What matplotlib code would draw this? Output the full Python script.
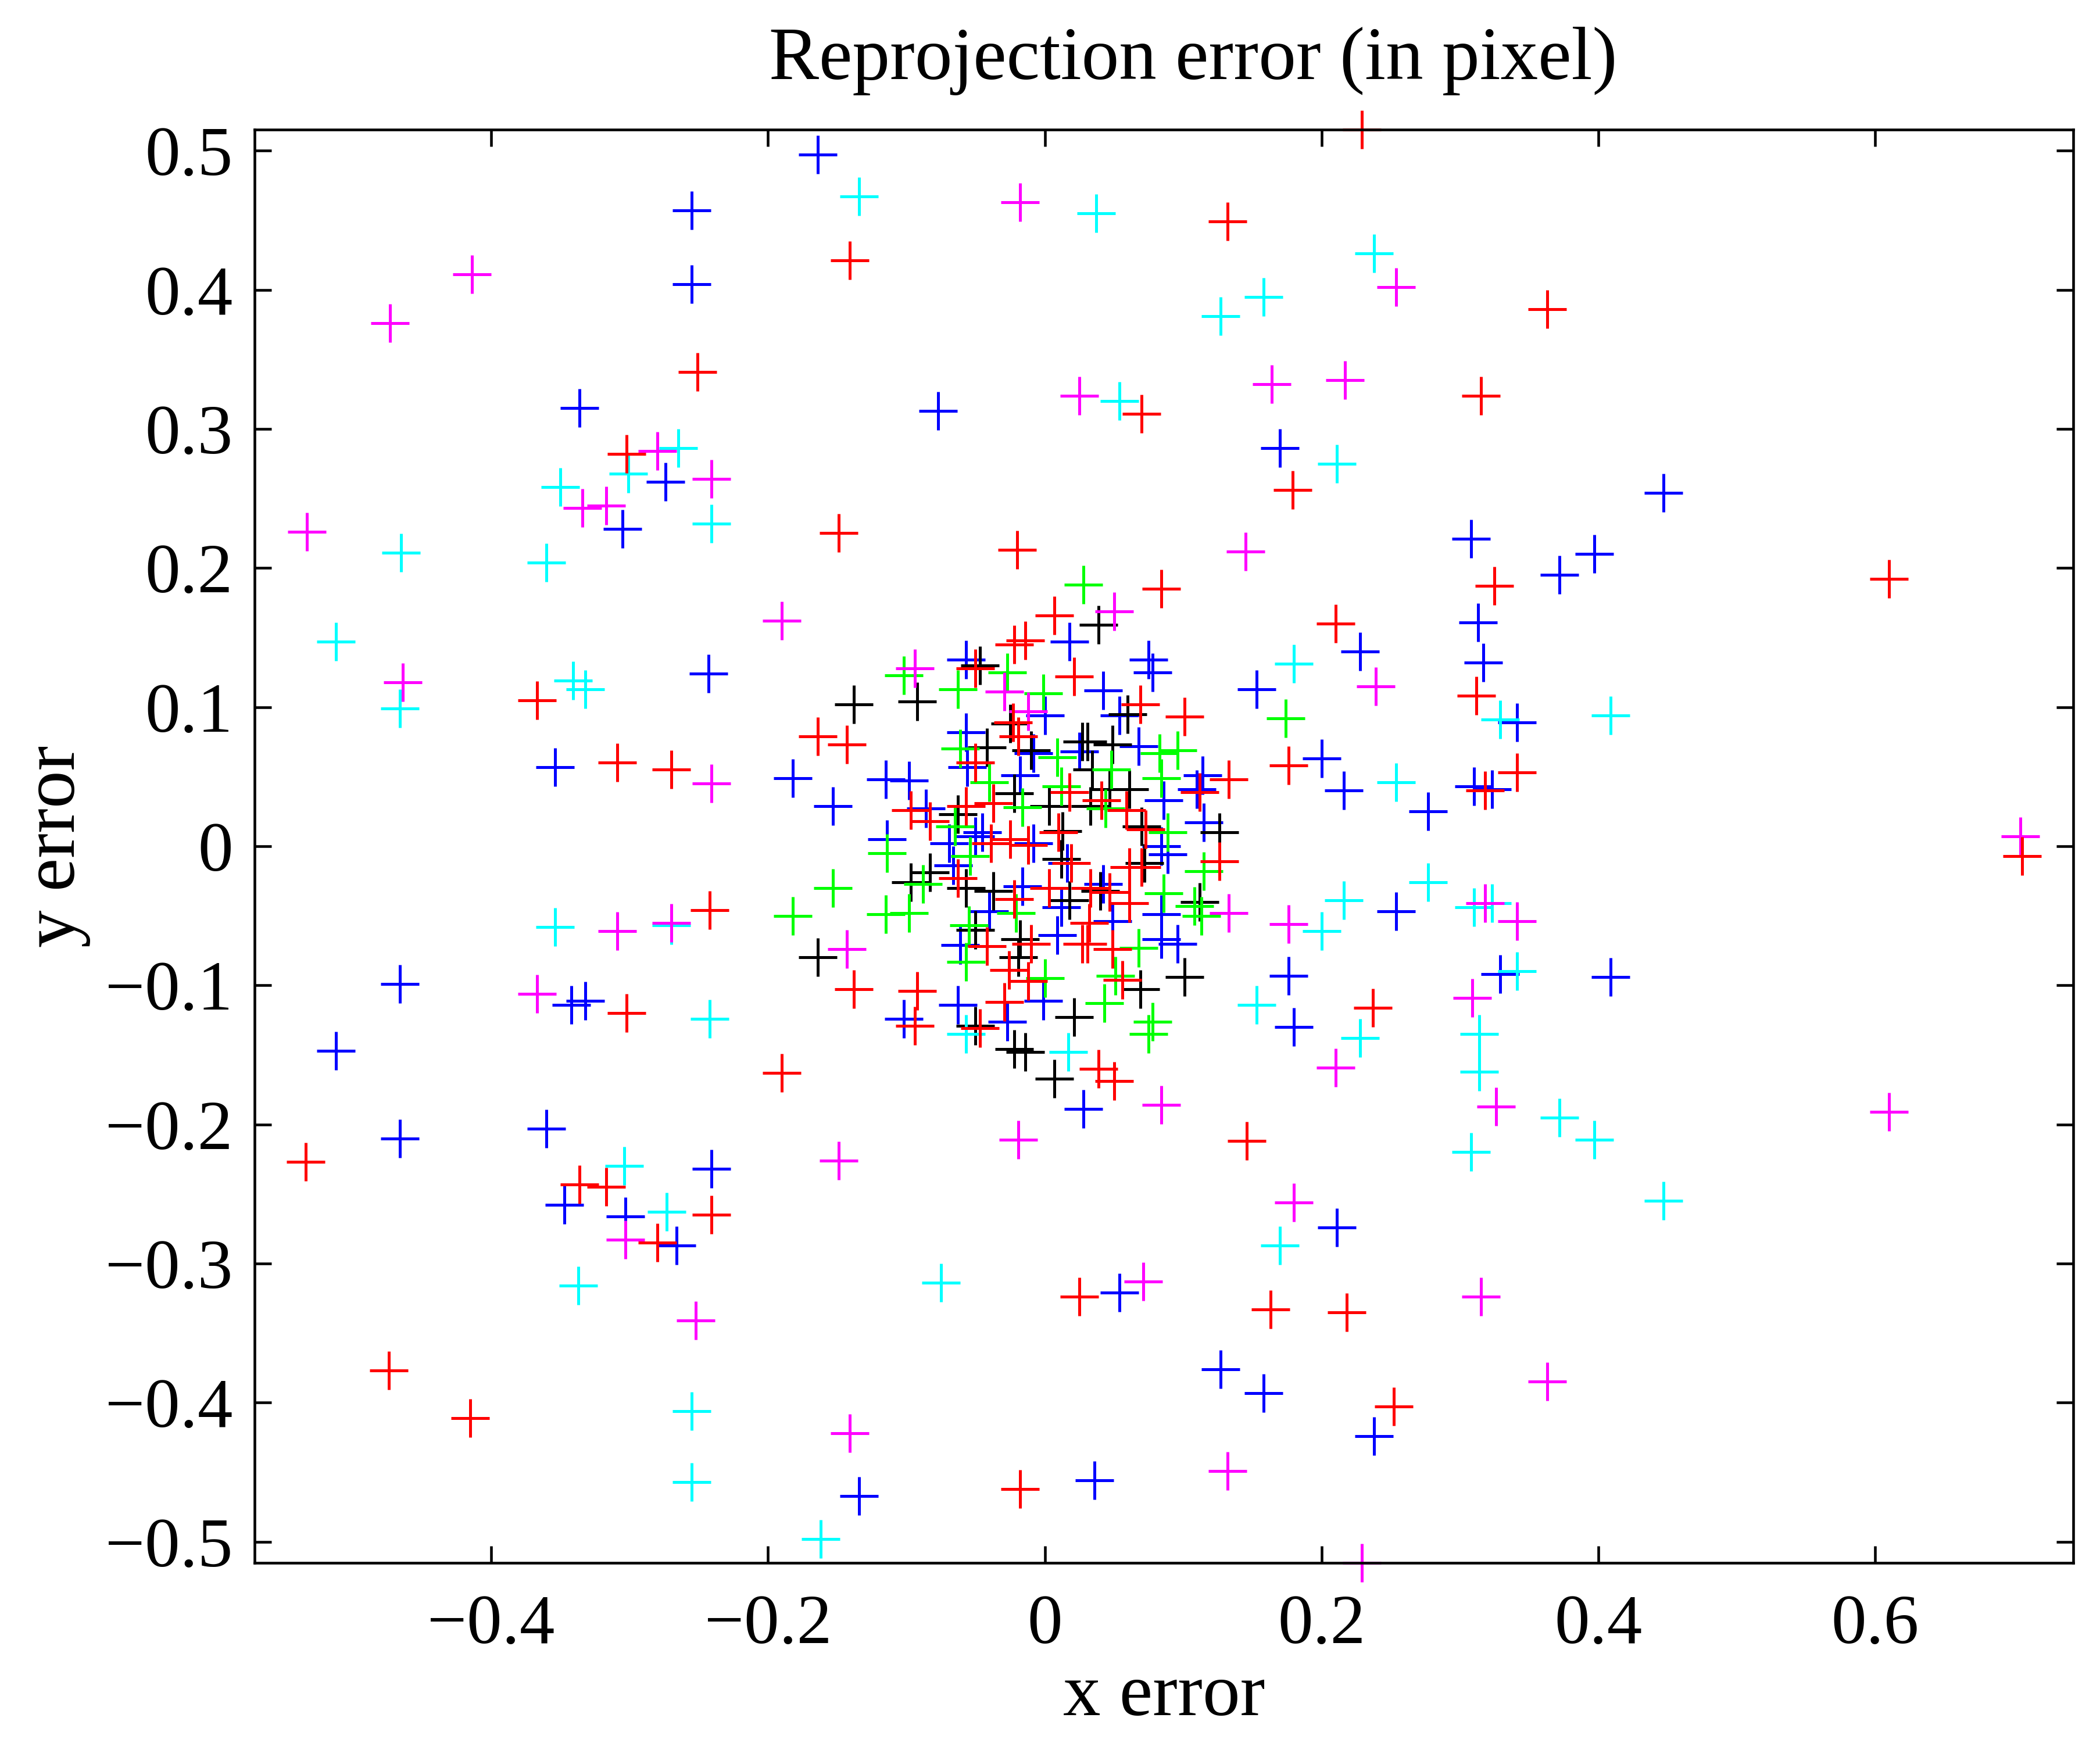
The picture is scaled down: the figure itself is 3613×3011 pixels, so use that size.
import numpy as np
import matplotlib
matplotlib.use("Agg")
import matplotlib.pyplot as plt
from matplotlib.ticker import FuncFormatter

plt.rcParams['font.family'] = ['Liberation Serif', 'DejaVu Serif']

# reprojection errors per image (x, y)
red_x = [0.229, 0.132, -0.141, 0.363, -0.251, 0.315, 0.070, -0.302, 0.179, -0.149, -0.020, 0.325, 0.084, 0.610,
         0.210, -0.367, 0.312, -0.309, -0.270, 0.176, 0.341, 0.318, 0.706, -0.242, -0.302, 0.237, -0.190, -0.534,
         -0.336, -0.317, -0.241, -0.280, 0.146, 0.025, 0.163, 0.218, 0.252, -0.474, -0.415, -0.018,
         -0.164, -0.143, -0.097, -0.083, -0.057, -0.037, -0.050, -0.023, -0.019, -0.050, -0.022, -0.039, -0.025,
         0.007, -0.014, 0.021, 0.069, 0.101, 0.018, 0.041, 0.059, 0.073, 0.112, 0.133, 0.010, -0.012, -0.063,
         -0.022, -0.042, -0.138, -0.092, -0.094, -0.047, -0.029, -0.026, 0.126, 0.049, 0.056, 0.039, 0.050,
         -0.010, 0.032, 0.027, 0.031, 0.033, 0.003, 0.019, 0.061, 0.070, 0.047, 0.061, -0.012]
red_y = [0.515, 0.449, 0.421, 0.386, 0.341, 0.324, 0.311, 0.282, 0.256, 0.225, 0.213, 0.187, 0.185, 0.192,
         0.160, 0.105, 0.108, 0.060, 0.055, 0.058, 0.053, 0.040, -0.007, -0.046, -0.120, -0.116, -0.163, -0.227,
         -0.243, -0.245, -0.265, -0.285, -0.212, -0.324, -0.333, -0.335, -0.403, -0.377, -0.411, -0.462,
         0.079, 0.073, 0.026, 0.018, 0.029, 0.031, 0.060, 0.089, 0.079, 0.128, 0.145, 0.002, 0.005,
         0.166, 0.148, 0.122, 0.102, 0.093, 0.039, 0.033, 0.026, 0.012, 0.039, 0.048, 0.010, 0.001, -0.023,
         -0.038, -0.072, -0.103, -0.104, -0.129, -0.131, -0.112, -0.089, -0.011, -0.074, -0.096, -0.160, -0.169,
         -0.070, -0.055, -0.070, -0.070, -0.030, -0.030, -0.012, -0.015, -0.015, -0.033, -0.041, -0.097]

magenta_x = [-0.018, -0.414, -0.473, 0.254, 0.217, 0.164, 0.025, -0.280, -0.241, -0.317, -0.334, -0.533, 0.145,
             -0.190, 0.050, -0.094, 0.239, -0.464, -0.241, 0.705, -0.270, -0.309, -0.143, 0.133, 0.176, 0.318,
             0.341, -0.367, 0.309, 0.210, 0.326, 0.084, -0.019, -0.149, 0.180, -0.303, 0.071, 0.315, -0.252,
             0.363, -0.141, 0.132, 0.229, 0.610, -0.029, -0.012]
magenta_y = [0.463, 0.411, 0.376, 0.402, 0.335, 0.332, 0.324, 0.284, 0.264, 0.245, 0.243, 0.226, 0.212,
             0.162, 0.169, 0.128, 0.115, 0.118, 0.045, 0.007, -0.055, -0.061, -0.074, -0.048, -0.056, -0.041,
             -0.054, -0.106, -0.109, -0.159, -0.187, -0.186, -0.211, -0.226, -0.256, -0.283, -0.313, -0.324, -0.341,
             -0.385, -0.422, -0.449, -0.515, -0.191, 0.111, 0.097]

cyan_x = [-0.134, 0.037, 0.238, 0.158, 0.127, 0.054, -0.265, -0.301, 0.211, -0.350, -0.241, -0.465, -0.360,
          -0.512, 0.180, -0.341, -0.332, -0.466, 0.409, 0.329, 0.254, 0.216, 0.277, 0.310, 0.323, -0.270, -0.354,
          0.341, 0.200, -0.242, 0.153, 0.228, 0.314, 0.314, -0.057, 0.017, 0.308, 0.372, 0.397, -0.304, 0.447,
          -0.273, 0.170, -0.337, -0.075, -0.255, -0.255, -0.162]
cyan_y = [0.467, 0.455, 0.426, 0.395, 0.381, 0.320, 0.286, 0.268, 0.275, 0.258, 0.232, 0.211, 0.204,
          0.147, 0.131, 0.119, 0.113, 0.099, 0.094, 0.091, 0.046, -0.039, -0.026, -0.044, -0.041, -0.057, -0.058,
          -0.090, -0.061, -0.124, -0.114, -0.138, -0.135, -0.162, -0.135, -0.148, -0.220, -0.195, -0.211, -0.230,
          -0.255, -0.263, -0.287, -0.316, -0.314, -0.406, -0.457, -0.498]

blue_x = [-0.164, -0.255, -0.255, -0.336, -0.077, 0.170, -0.274, -0.305, 0.447, 0.308, 0.372, 0.397, 0.313,
          0.317, -0.243, 0.228, 0.153, 0.341, 0.200, 0.216, 0.277, 0.310, 0.323, -0.354, 0.254, 0.409, 0.329,
          -0.466, -0.342, -0.332, 0.180, 0.176, -0.512, -0.360, -0.466, -0.241, -0.347, -0.303, -0.266, 0.211,
          0.036, 0.054, 0.127, 0.158, 0.238, -0.134, 0.028,
          -0.057, -0.182, -0.153, -0.115, -0.098, -0.086, -0.114, -0.056, -0.057, -0.018, -0.069, -0.050, -0.045,
          0.018, 0.075, 0.078, 0.000, 0.042, 0.054, 0.068, 0.025, -0.008, 0.086, 0.114, 0.110, 0.115, -0.008,
          0.084, 0.089, -0.066, -0.040, -0.061, -0.102, -0.063, -0.027, 0.084, 0.084, 0.096, -0.001, 0.009,
          -0.016, 0.012, 0.016, 0.042, 0.049]
blue_y = [0.497, 0.457, 0.404, 0.315, 0.313, 0.286, 0.262, 0.228, 0.254, 0.221, 0.195, 0.210, 0.161,
          0.132, 0.124, 0.140, 0.113, 0.089, 0.063, 0.040, 0.025, 0.043, 0.041, 0.057, -0.047, -0.094, -0.092,
          -0.099, -0.114, -0.111, -0.130, -0.093, -0.147, -0.203, -0.210, -0.232, -0.258, -0.266, -0.287, -0.274,
          -0.456, -0.321, -0.376, -0.393, -0.424, -0.467, -0.189,
          0.134, 0.049, 0.029, 0.048, 0.047, 0.027, 0.005, 0.057, 0.082, 0.051, 0.002, 0.007, 0.010,
          0.147, 0.134, 0.125, 0.094, 0.112, 0.094, 0.072, 0.068, 0.067, 0.033, 0.051, 0.041, 0.017, 0.002,
          0.000, -0.006, -0.014, -0.047, -0.071, -0.124, -0.114, -0.126, -0.049, -0.067, -0.070, -0.111, -0.064,
          -0.029, -0.044, -0.012, -0.027, -0.054]

green_x = [0.028, -0.102, -0.027, -0.063, -0.061, -0.040, -0.114, -0.065, -0.001, 0.083, 0.096, 0.009, 0.012,
           0.048, 0.044, 0.084, 0.089, -0.016, -0.153, -0.182, -0.115, -0.098, -0.088, -0.055, -0.057, 0.115,
           0.086, 0.113, 0.108, 0.068, 0.051, 0.043, 0.078, 0.075, 0.000, -0.021, -0.054, 0.174]
green_y = [0.188, 0.123, 0.125, 0.113, 0.070, 0.046, -0.005, 0.014, 0.110, 0.067, 0.069, 0.064, 0.043,
           0.055, 0.027, 0.049, 0.010, 0.028, -0.030, -0.050, -0.049, -0.048, -0.027, -0.057, -0.083, -0.018,
           -0.034, -0.050, -0.043, -0.073, -0.093, -0.113, -0.126, -0.135, -0.095, -0.048, -0.007, 0.092]

black_x = [-0.047, -0.138, -0.092, -0.042, -0.063, -0.022, -0.025, 0.039, 0.060, 0.027, 0.031, 0.049, -0.010,
           0.034, 0.003, 0.033, 0.047, 0.061, 0.070, 0.126, 0.013, -0.097, -0.083, -0.057, -0.037, -0.050,
           -0.164, -0.050, -0.022, -0.014, -0.019, -0.018, 0.112, 0.101, 0.069, 0.021, 0.007, 0.012, 0.072,
           0.018, 0.040]
black_y = [0.130, 0.102, 0.104, 0.071, 0.023, 0.038, 0.088, 0.159, 0.095, 0.075, 0.075, 0.073, 0.069,
           0.055, 0.029, 0.029, 0.041, 0.041, 0.014, 0.010, 0.011, -0.026, -0.019, -0.030, -0.032, -0.060,
           -0.080, -0.129, -0.146, -0.148, -0.080, -0.067, -0.040, -0.094, -0.103, -0.123, -0.167, -0.009, -0.012,
           -0.039, -0.032]

series = [
    (blue_x, blue_y, '#0000ff'),
    (black_x, black_y, '#000000'),
    (green_x, green_y, '#00ff00'),
    (cyan_x, cyan_y, '#00ffff'),
    (magenta_x, magenta_y, '#ff00ff'),
    (red_x, red_y, '#ff0000'),
]

fig = plt.figure(figsize=(3613 / 300, 3011 / 300), dpi=300)
ax = fig.add_axes([0.1212, 0.1071, 0.8660, 0.8187])

for xs, ys, c in series:
    ax.plot(xs, ys, '+', color=c, markersize=16, markeredgewidth=1.2, clip_on=False)

ax.set_xlim(-0.571, 0.743)
ax.set_ylim(-0.515, 0.515)
ax.set_xticks([-0.4, -0.2, 0, 0.2, 0.4, 0.6])
ax.set_yticks(np.round(np.arange(-0.5, 0.51, 0.1), 1))

def fmt(v, pos):
    s = f"{round(v, 2):g}"
    if s in ("-0", "0"):
        return "0"
    return s.replace("-", "\u2212")

ax.xaxis.set_major_formatter(FuncFormatter(fmt))
ax.yaxis.set_major_formatter(FuncFormatter(fmt))
ax.tick_params(direction='in', length=7, width=1.1, labelsize=29, top=True, right=True)
ax.tick_params(axis='x', pad=13)
ax.tick_params(axis='y', pad=9)
for sp in ax.spines.values():
    sp.set_linewidth(1.1)

ax.set_title('Reprojection error (in pixel)', fontsize=31, pad=21, x=0.516)
ax.set_xlabel('x error', fontsize=31, labelpad=2)
ax.set_ylabel('y error', fontsize=31, labelpad=6)

fig.savefig('out.png', dpi=300)
